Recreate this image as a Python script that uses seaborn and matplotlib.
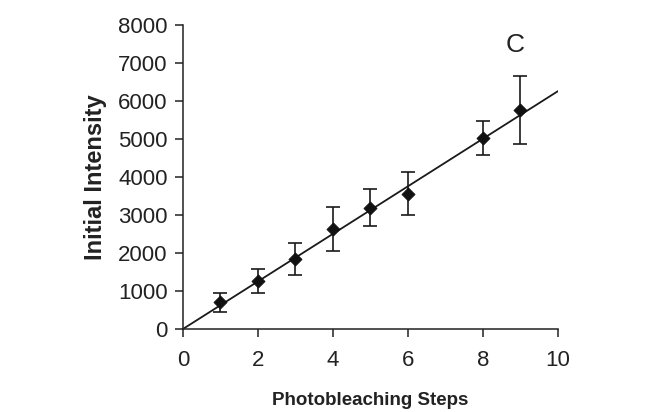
import matplotlib
matplotlib.use("Agg")
import matplotlib.pyplot as plt
import seaborn as sns
import numpy as np
import pandas as pd

steps = [1, 2, 3, 4, 5, 6, 8, 9]
intensity = [700, 1265, 1840, 2630, 3190, 3560, 5030, 5770]
err = [250, 310, 430, 590, 490, 570, 450, 900]
fit_x = [0, 10]
fit_y = [0, 6260]

sns.set_theme(style="ticks")
plt.rcParams['font.family'] = ['Liberation Sans', 'DejaVu Sans']

fig = plt.figure(figsize=(6.53, 4.12), dpi=100)
ax = fig.add_axes([0.2802, 0.2015, 0.5743, 0.7378])

df = pd.DataFrame({"x": steps, "y": intensity})
sns.lineplot(x=fit_x, y=fit_y, ax=ax, color="#1a1a1a", linewidth=1.3)
ax.errorbar(steps, intensity, yerr=err, fmt="none", ecolor="#1a1a1a",
            elinewidth=1.2, capsize=5, capthick=1.2)
sns.scatterplot(data=df, x="x", y="y", ax=ax, marker="D", s=45,
                color="#111111", edgecolor="#111111", zorder=5)

ax.set_xlim(0, 10)
ax.set_ylim(0, 8000)
ax.set_xticks([0, 2, 4, 6, 8, 10])
ax.set_yticks(range(0, 8001, 1000))
ax.tick_params(axis="both", labelsize=16, colors="#222222", direction="out",
               length=6, width=1.1, pad=5)
ax.tick_params(axis="x", pad=9)
for s in ["top", "right"]:
    ax.spines[s].set_visible(False)
for s in ["left", "bottom"]:
    ax.spines[s].set_color("#222222")
    ax.spines[s].set_linewidth(1.1)

ax.set_xlabel("Photobleaching Steps", fontsize=13.5, fontweight="bold",
              color="#222222", labelpad=15.5)
ax.set_ylabel("Initial Intensity", fontsize=17, fontweight="bold",
              color="#222222", labelpad=8)
ax.text(8.85, 7470, "C", fontsize=19, color="#222222", ha="center", va="center")

fig.savefig("out.png", dpi=100)
